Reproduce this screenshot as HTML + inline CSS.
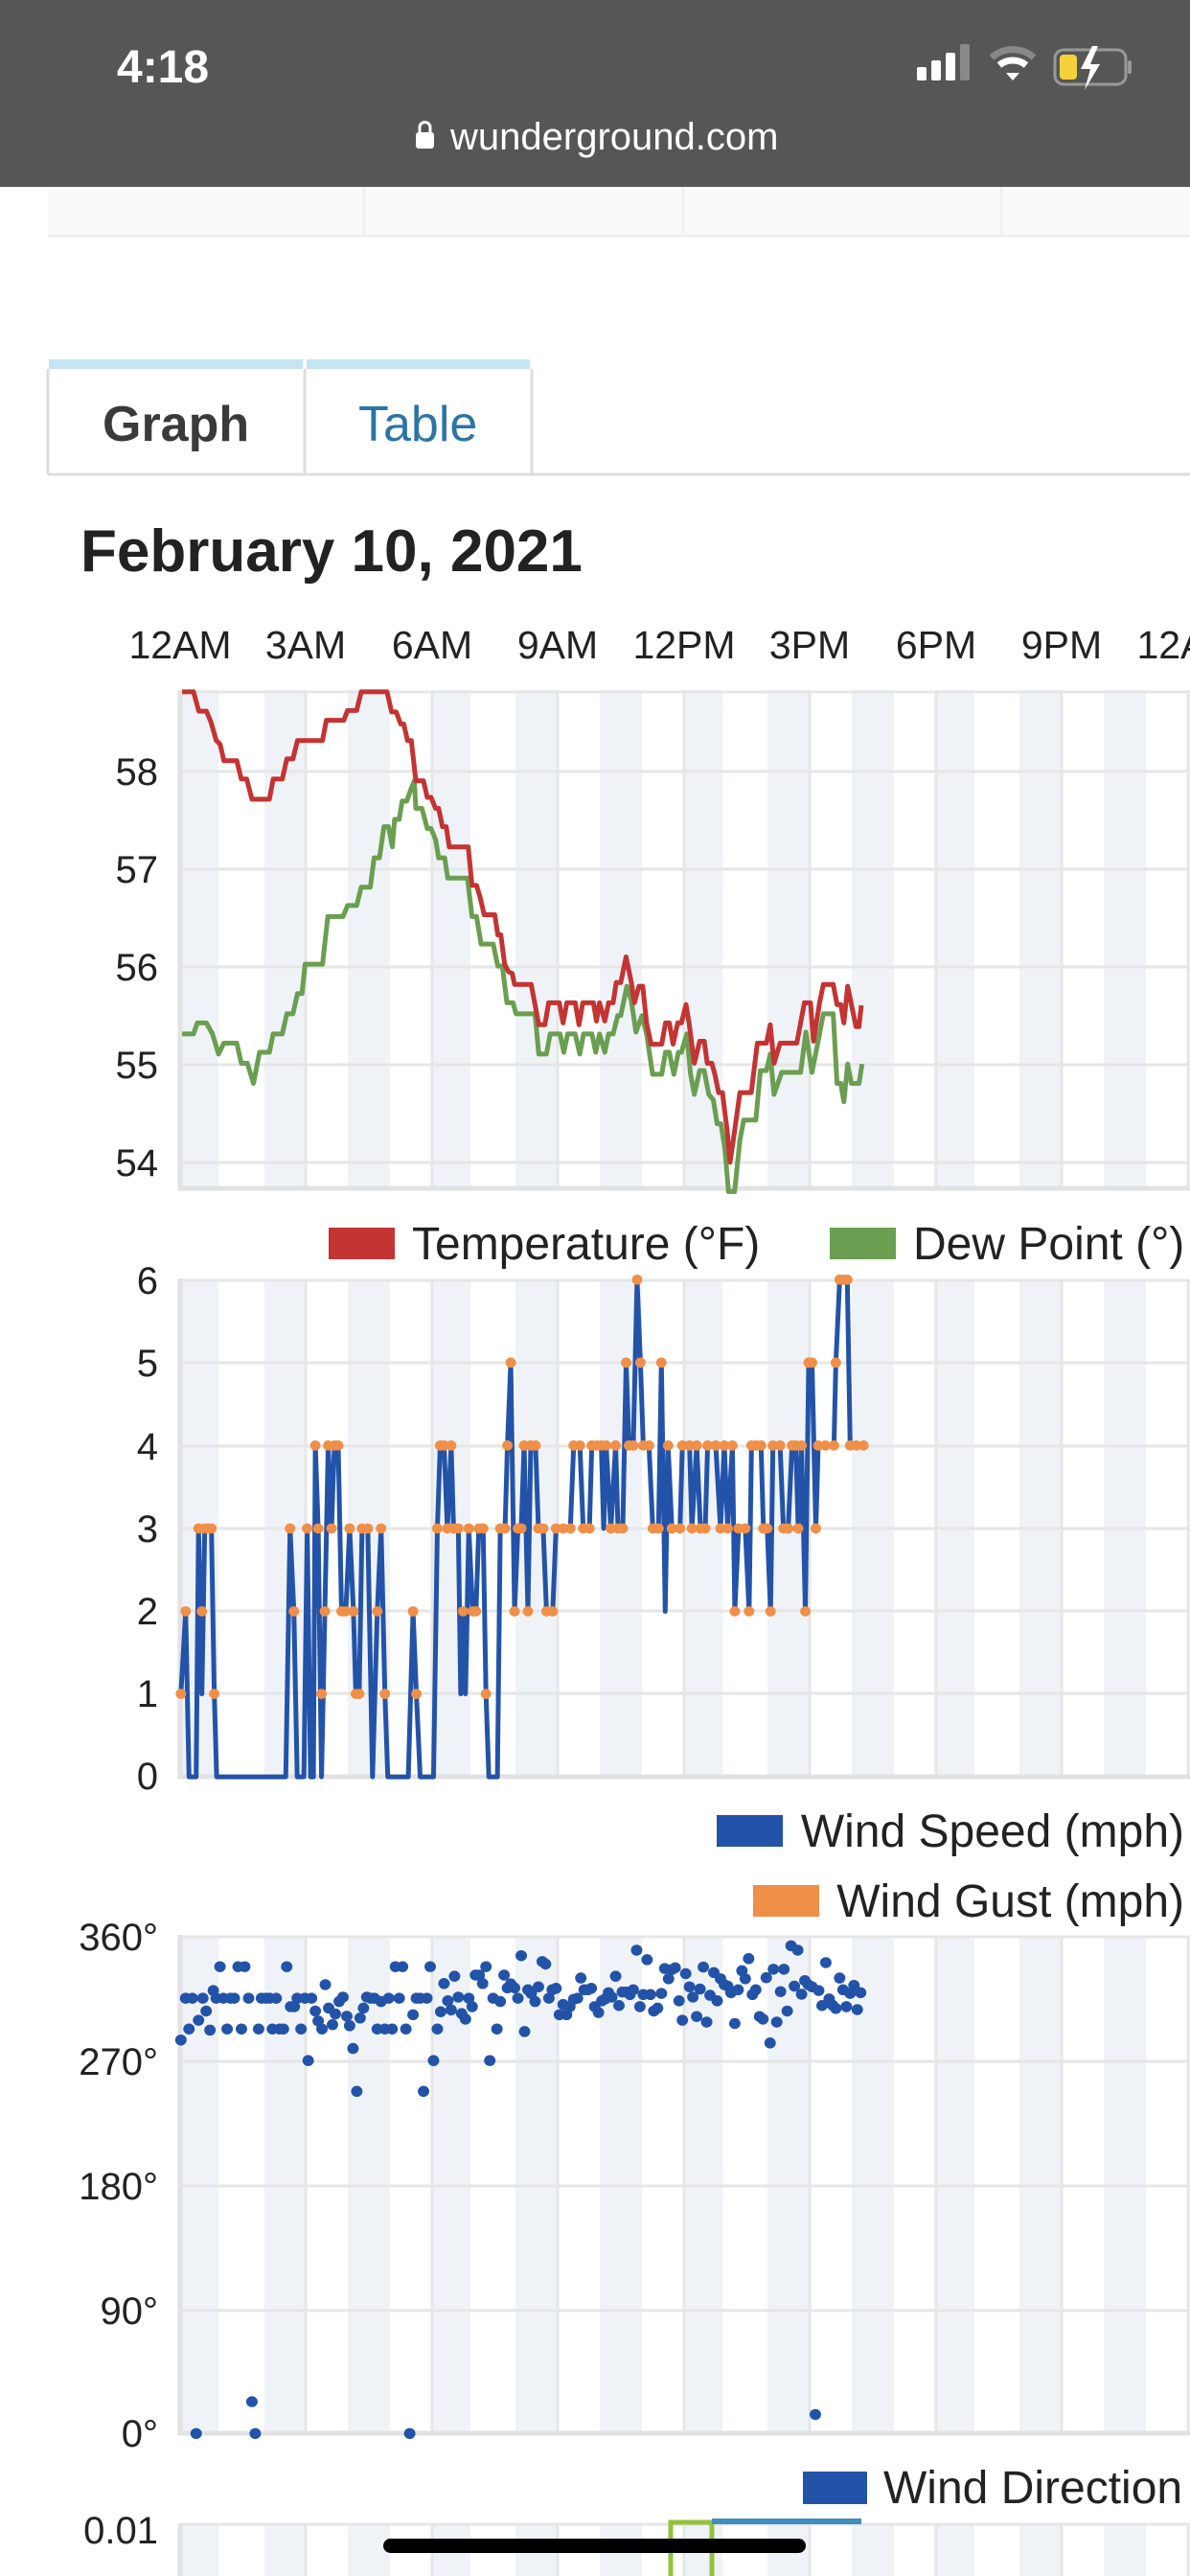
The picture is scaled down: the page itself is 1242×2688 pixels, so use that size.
<!DOCTYPE html>
<html><head><meta charset="utf-8"><style>
html,body{margin:0;padding:0;background:#fff;width:1242px;height:2688px;overflow:hidden}
svg{display:block;font-family:"Liberation Sans",sans-serif}
</style></head><body>
<svg width="1242" height="2688" viewBox="0 0 1242 2688" xmlns="http://www.w3.org/2000/svg">
<!-- faded table remnant -->
<rect x="50" y="195" width="1192" height="50" fill="#fafafa"/>
<line x1="50" y1="246" x2="1242" y2="246" stroke="#eeeeee" stroke-width="3"/>
<g stroke="#f0f0f0" stroke-width="3"><line x1="380" y1="195" x2="380" y2="245"/><line x1="713" y1="195" x2="713" y2="245"/><line x1="1045" y1="195" x2="1045" y2="245"/></g>
<!-- status bar -->
<rect x="0" y="0" width="1242" height="195" fill="#555655"/>
<text x="122" y="86" font-size="48" font-weight="bold" fill="#fff">4:18</text>
<g fill="#fff"><rect x="957" y="70" width="10" height="14" rx="2"/><rect x="972" y="63" width="10" height="21" rx="2"/><rect x="987" y="55" width="10" height="29" rx="2"/></g>
<rect x="1002" y="46" width="10" height="38" rx="2" fill="#888"/>
<path d="M1035 60 a33 33 0 0 1 44 0" stroke="#888" stroke-width="7" fill="none"/>
<path d="M1043 68 a22 22 0 0 1 28 0" stroke="#fff" stroke-width="7" fill="none"/>
<path d="M1050 76 l7 8 l7 -8 z" fill="#fff"/>
<rect x="1101" y="52" width="74" height="36" rx="9" fill="none" stroke="#999" stroke-width="3"/>
<rect x="1106" y="57" width="18" height="26" rx="4" fill="#f5d13c"/>
<rect x="1177" y="63" width="4" height="14" rx="2" fill="#999"/>
<path d="M1140 48 l-12 24 h10 l-6 22 l16 -27 h-10 l8 -19 z" fill="#fff"/>
<rect x="434" y="138" width="19" height="17" rx="3" fill="#fff"/>
<path d="M438 139 v-6 a5.5 5.5 0 0 1 11 0 v6" stroke="#fff" stroke-width="3" fill="none"/>
<text x="470" y="156" font-size="40" fill="#fff">wunderground.com</text>
<!-- tabs -->
<rect x="51" y="375" width="265" height="10" fill="#c5e5f2"/>
<rect x="320" y="375" width="233" height="10" fill="#c5e5f2"/>
<g stroke="#dddddd" stroke-width="3" fill="none">
<line x1="50" y1="385" x2="50" y2="495"/><line x1="318" y1="385" x2="318" y2="495"/><line x1="555" y1="385" x2="555" y2="495"/>
<line x1="50" y1="495" x2="1242" y2="495"/>
</g>
<text x="107" y="460" font-size="52" font-weight="bold" fill="#3a3a3a">Graph</text>
<text x="374" y="460" font-size="52" fill="#2b74a6">Table</text>
<text x="84" y="596" font-size="62" font-weight="bold" fill="#222">February 10, 2021</text>
<!-- hour labels -->
<g font-size="41" fill="#222" text-anchor="middle">
<text x="188" y="687">12AM</text><text x="319" y="687">3AM</text><text x="451" y="687">6AM</text><text x="582" y="687">9AM</text><text x="714" y="687">12PM</text><text x="845" y="687">3PM</text><text x="977" y="687">6PM</text><text x="1108" y="687">9PM</text><text x="1240" y="687">12AM</text>
</g>

<!-- CHART 1 -->
<g fill="#eff3f8">
<rect x="188" y="720" width="40" height="520"/><rect x="276" y="720" width="44" height="520"/><rect x="363" y="720" width="44" height="520"/><rect x="451" y="720" width="40" height="520"/><rect x="538" y="720" width="44" height="520"/><rect x="626" y="720" width="44" height="520"/><rect x="714" y="720" width="40" height="520"/><rect x="801" y="720" width="44" height="520"/><rect x="889" y="720" width="44" height="520"/><rect x="977" y="720" width="40" height="520"/><rect x="1064" y="720" width="44" height="520"/><rect x="1152" y="720" width="44" height="520"/>
</g>
<g stroke="#e6e6e6" stroke-width="3">
<line x1="188" y1="722" x2="1242" y2="722"/><line x1="188" y1="805" x2="1242" y2="805"/><line x1="188" y1="907" x2="1242" y2="907"/><line x1="188" y1="1009" x2="1242" y2="1009"/><line x1="188" y1="1111" x2="1242" y2="1111"/><line x1="188" y1="1213" x2="1242" y2="1213"/>
<line x1="319" y1="720" x2="319" y2="1240"/><line x1="451" y1="720" x2="451" y2="1240"/><line x1="582" y1="720" x2="582" y2="1240"/><line x1="714" y1="720" x2="714" y2="1240"/><line x1="845" y1="720" x2="845" y2="1240"/><line x1="977" y1="720" x2="977" y2="1240"/><line x1="1108" y1="720" x2="1108" y2="1240"/><line x1="1240" y1="720" x2="1240" y2="1240"/>
</g>
<g stroke="#e2e2e2" stroke-width="5"><line x1="188" y1="720" x2="188" y2="1242"/><line x1="186" y1="1240" x2="1242" y2="1240"/></g>
<g font-size="40" fill="#222" text-anchor="end">
<text x="165" y="819">58</text><text x="165" y="921">57</text><text x="165" y="1023">56</text><text x="165" y="1125">55</text><text x="165" y="1227">54</text>
</g>
<g transform="translate(0,700) scale(0.79202,0.38270)" fill="none" stroke-width="5" stroke-linejoin="round">
<polyline vector-effect="non-scaling-stroke" stroke="#6a9e50" points="240,990 255,990 260,960 272,960 280,990 288,1045 295,1015 312,1015 318,1070 326,1070 334,1125 342,1040 355,1040 360,990 372,990 378,935 386,935 392,880 398,880 402,800 425,800 432,670 452,670 458,640 470,640 476,590 488,590 493,510 500,510 506,425 512,425 517,480 520,405 526,405 530,355 536,355 542,320 546,300 548,375 556,375 563,430 568,430 574,460 578,510 586,510 590,565 616,565 622,670 628,670 634,745 650,745 656,805 662,805 668,905 676,905 680,935 705,935 710,1045 720,1045 725,990 738,990 743,1040 748,990 758,990 764,1045 769,990 780,990 785,1040 790,990 797,1040 802,990 808,990 814,940 818,940 826,860 832,900 838,985 846,940 852,990 860,1100 872,1100 877,1040 882,1040 888,1100 894,1040 898,1040 905,990 910,1100 915,1155 922,1090 928,1090 934,1155 940,1170 945,1235 950,1235 955,1300 960,1420 968,1420 975,1280 980,1225 996,1225 1002,1090 1010,1090 1015,1045 1020,1155 1030,1095 1055,1095 1062,985 1070,1095 1080,990 1085,935 1098,935 1103,1125 1108,1125 1112,1175 1117,1072 1122,1125 1132,1125 1136,1072"/>
<polyline vector-effect="non-scaling-stroke" stroke="#c33432" points="240,57 255,57 262,110 272,110 278,140 285,190 290,200 295,245 312,245 318,295 325,295 332,350 355,350 360,295 372,295 378,240 386,240 392,190 425,190 430,135 453,135 458,108 470,108 476,57 510,57 516,112 522,112 528,145 532,145 537,190 542,190 548,300 558,300 563,345 568,345 574,375 578,375 583,425 588,425 592,480 617,480 622,585 628,585 633,620 638,665 652,665 656,720 660,720 665,800 670,820 675,825 678,855 700,855 705,910 710,965 718,965 723,905 737,905 742,960 747,905 758,905 763,965 768,905 782,905 786,955 790,905 797,955 802,905 808,905 812,850 818,850 825,780 832,850 836,905 842,860 847,860 852,960 858,1018 872,1018 877,960 882,960 887,1018 893,960 898,960 904,910 908,960 915,1070 922,1010 928,1010 932,1070 938,1070 942,1100 947,1150 952,1150 958,1250 962,1340 967,1270 975,1150 990,1150 998,1015 1010,1015 1015,965 1020,1070 1028,1015 1050,1015 1060,905 1068,905 1072,1010 1080,905 1085,855 1098,855 1103,910 1108,910 1112,960 1117,860 1122,910 1128,970 1132,970 1135,912"/>
</g>
<rect x="343" y="1281" width="69" height="33" fill="#c33432"/>
<text x="430" y="1314" font-size="48" fill="#222">Temperature (°F)</text>
<rect x="866" y="1281" width="69" height="33" fill="#6a9e50"/>
<text x="953" y="1314" font-size="48" fill="#222">Dew Point (°)</text>

<!-- CHART 2 -->
<g fill="#eff3f8">
<rect x="188" y="1336" width="40" height="518"/><rect x="276" y="1336" width="44" height="518"/><rect x="363" y="1336" width="44" height="518"/><rect x="451" y="1336" width="40" height="518"/><rect x="538" y="1336" width="44" height="518"/><rect x="626" y="1336" width="44" height="518"/><rect x="714" y="1336" width="40" height="518"/><rect x="801" y="1336" width="44" height="518"/><rect x="889" y="1336" width="44" height="518"/><rect x="977" y="1336" width="40" height="518"/><rect x="1064" y="1336" width="44" height="518"/><rect x="1152" y="1336" width="44" height="518"/>
</g>
<g stroke="#e6e6e6" stroke-width="3">
<line x1="188" y1="1336" x2="1242" y2="1336"/><line x1="188" y1="1422" x2="1242" y2="1422"/><line x1="188" y1="1509" x2="1242" y2="1509"/><line x1="188" y1="1595" x2="1242" y2="1595"/><line x1="188" y1="1681" x2="1242" y2="1681"/><line x1="188" y1="1767" x2="1242" y2="1767"/>
<line x1="319" y1="1336" x2="319" y2="1854"/><line x1="451" y1="1336" x2="451" y2="1854"/><line x1="582" y1="1336" x2="582" y2="1854"/><line x1="714" y1="1336" x2="714" y2="1854"/><line x1="845" y1="1336" x2="845" y2="1854"/><line x1="977" y1="1336" x2="977" y2="1854"/><line x1="1108" y1="1336" x2="1108" y2="1854"/><line x1="1240" y1="1336" x2="1240" y2="1854"/>
</g>
<g stroke="#e2e2e2" stroke-width="5"><line x1="188" y1="1334" x2="188" y2="1856"/><line x1="186" y1="1854" x2="1242" y2="1854"/></g>
<g font-size="40" fill="#222" text-anchor="end">
<text x="165" y="1350">6</text><text x="165" y="1436">5</text><text x="165" y="1523">4</text><text x="165" y="1609">3</text><text x="165" y="1695">2</text><text x="165" y="1781">1</text><text x="165" y="1867">0</text>
</g>
<g transform="translate(150,1250) scale(0.49751,0.40816)">
<polyline vector-effect="non-scaling-stroke" fill="none" stroke="#2353a8" stroke-width="5" stroke-linejoin="round" points="78,1268 88,1057 95,1480 110,1480 115,845 122,1268 128,845 135,845 142,845 148,1268 153,1480 298,1480 307,845 315,1057 322,1480 336,1480 343,845 350,1480 356,1480 360,633 366,845 373,1480 380,1057 387,633 394,845 400,633 408,633 415,1057 424,1057 432,845 440,1057 445,1268 452,1268 458,845 470,845 480,1480 490,1057 498,845 506,1268 512,1480 555,1480 565,1057 572,1268 580,1480 608,1480 616,845 622,633 630,633 637,845 645,633 650,845 660,845 665,1268 670,1057 675,1268 682,845 690,1057 697,1057 703,845 712,845 718,1268 724,1480 742,1480 748,845 758,845 763,633 770,421 778,1057 785,845 792,845 798,633 806,1057 812,633 822,633 828,845 838,845 845,1057 858,1057 865,845 895,845 902,633 915,633 922,845 935,845 940,633 960,633 965,845 970,633 980,845 990,633 995,845 1005,845 1012,421 1018,633 1027,633 1035,209 1042,421 1048,633 1060,633 1068,845 1080,845 1086,421 1094,1057 1100,633 1108,845 1125,845 1130,633 1145,633 1150,845 1160,633 1168,845 1178,845 1183,633 1200,633 1210,845 1218,633 1225,845 1235,633 1240,1057 1248,845 1262,845 1270,1057 1275,633 1295,633 1300,845 1308,845 1315,1057 1320,633 1335,633 1342,845 1352,845 1360,633 1368,633 1373,845 1380,633 1388,1057 1395,421 1402,421 1410,845 1415,633 1448,633 1452,421 1460,209 1476,209 1482,633 1510,633"/>
<g fill="#ef8f48">
<ellipse cx="78" cy="1268" rx="11" ry="13"/><ellipse cx="88" cy="1057" rx="11" ry="13"/><ellipse cx="115" cy="845" rx="11" ry="13"/><ellipse cx="122" cy="1057" rx="11" ry="13"/><ellipse cx="128" cy="845" rx="11" ry="13"/><ellipse cx="135" cy="845" rx="11" ry="13"/><ellipse cx="142" cy="845" rx="11" ry="13"/><ellipse cx="148" cy="1268" rx="11" ry="13"/><ellipse cx="307" cy="845" rx="11" ry="13"/><ellipse cx="315" cy="1057" rx="11" ry="13"/><ellipse cx="343" cy="845" rx="11" ry="13"/><ellipse cx="360" cy="633" rx="11" ry="13"/><ellipse cx="366" cy="845" rx="11" ry="13"/><ellipse cx="373" cy="1268" rx="11" ry="13"/><ellipse cx="380" cy="1057" rx="11" ry="13"/><ellipse cx="387" cy="633" rx="11" ry="13"/><ellipse cx="394" cy="845" rx="11" ry="13"/><ellipse cx="400" cy="633" rx="11" ry="13"/><ellipse cx="408" cy="633" rx="11" ry="13"/><ellipse cx="415" cy="1057" rx="11" ry="13"/><ellipse cx="424" cy="1057" rx="11" ry="13"/><ellipse cx="432" cy="845" rx="11" ry="13"/><ellipse cx="440" cy="1057" rx="11" ry="13"/><ellipse cx="445" cy="1268" rx="11" ry="13"/><ellipse cx="452" cy="1268" rx="11" ry="13"/><ellipse cx="458" cy="845" rx="11" ry="13"/><ellipse cx="470" cy="845" rx="11" ry="13"/><ellipse cx="490" cy="1057" rx="11" ry="13"/><ellipse cx="498" cy="845" rx="11" ry="13"/><ellipse cx="506" cy="1268" rx="11" ry="13"/><ellipse cx="565" cy="1057" rx="11" ry="13"/><ellipse cx="572" cy="1268" rx="11" ry="13"/><ellipse cx="616" cy="845" rx="11" ry="13"/><ellipse cx="622" cy="633" rx="11" ry="13"/><ellipse cx="630" cy="633" rx="11" ry="13"/><ellipse cx="637" cy="845" rx="11" ry="13"/><ellipse cx="645" cy="633" rx="11" ry="13"/><ellipse cx="650" cy="845" rx="11" ry="13"/><ellipse cx="660" cy="845" rx="11" ry="13"/><ellipse cx="670" cy="1057" rx="11" ry="13"/><ellipse cx="682" cy="845" rx="11" ry="13"/><ellipse cx="690" cy="1057" rx="11" ry="13"/><ellipse cx="697" cy="1057" rx="11" ry="13"/><ellipse cx="703" cy="845" rx="11" ry="13"/><ellipse cx="712" cy="845" rx="11" ry="13"/><ellipse cx="718" cy="1268" rx="11" ry="13"/><ellipse cx="748" cy="845" rx="11" ry="13"/><ellipse cx="758" cy="845" rx="11" ry="13"/><ellipse cx="763" cy="633" rx="11" ry="13"/><ellipse cx="770" cy="421" rx="11" ry="13"/><ellipse cx="778" cy="1057" rx="11" ry="13"/><ellipse cx="785" cy="845" rx="11" ry="13"/><ellipse cx="792" cy="845" rx="11" ry="13"/><ellipse cx="798" cy="633" rx="11" ry="13"/><ellipse cx="806" cy="1057" rx="11" ry="13"/><ellipse cx="812" cy="633" rx="11" ry="13"/><ellipse cx="822" cy="633" rx="11" ry="13"/><ellipse cx="828" cy="845" rx="11" ry="13"/><ellipse cx="838" cy="845" rx="11" ry="13"/><ellipse cx="845" cy="1057" rx="11" ry="13"/><ellipse cx="858" cy="1057" rx="11" ry="13"/><ellipse cx="865" cy="845" rx="11" ry="13"/><ellipse cx="880" cy="845" rx="11" ry="13"/><ellipse cx="895" cy="845" rx="11" ry="13"/><ellipse cx="902" cy="633" rx="11" ry="13"/><ellipse cx="915" cy="633" rx="11" ry="13"/><ellipse cx="922" cy="845" rx="11" ry="13"/><ellipse cx="935" cy="845" rx="11" ry="13"/><ellipse cx="940" cy="633" rx="11" ry="13"/><ellipse cx="950" cy="633" rx="11" ry="13"/><ellipse cx="960" cy="633" rx="11" ry="13"/><ellipse cx="970" cy="633" rx="11" ry="13"/><ellipse cx="980" cy="845" rx="11" ry="13"/><ellipse cx="990" cy="633" rx="11" ry="13"/><ellipse cx="995" cy="845" rx="11" ry="13"/><ellipse cx="1005" cy="845" rx="11" ry="13"/><ellipse cx="1012" cy="421" rx="11" ry="13"/><ellipse cx="1018" cy="633" rx="11" ry="13"/><ellipse cx="1027" cy="633" rx="11" ry="13"/><ellipse cx="1035" cy="209" rx="11" ry="13"/><ellipse cx="1042" cy="421" rx="11" ry="13"/><ellipse cx="1048" cy="633" rx="11" ry="13"/><ellipse cx="1060" cy="633" rx="11" ry="13"/><ellipse cx="1068" cy="845" rx="11" ry="13"/><ellipse cx="1080" cy="845" rx="11" ry="13"/><ellipse cx="1086" cy="421" rx="11" ry="13"/><ellipse cx="1100" cy="633" rx="11" ry="13"/><ellipse cx="1108" cy="845" rx="11" ry="13"/><ellipse cx="1125" cy="845" rx="11" ry="13"/><ellipse cx="1130" cy="633" rx="11" ry="13"/><ellipse cx="1145" cy="633" rx="11" ry="13"/><ellipse cx="1150" cy="845" rx="11" ry="13"/><ellipse cx="1160" cy="633" rx="11" ry="13"/><ellipse cx="1168" cy="845" rx="11" ry="13"/><ellipse cx="1178" cy="845" rx="11" ry="13"/><ellipse cx="1183" cy="633" rx="11" ry="13"/><ellipse cx="1200" cy="633" rx="11" ry="13"/><ellipse cx="1210" cy="845" rx="11" ry="13"/><ellipse cx="1218" cy="633" rx="11" ry="13"/><ellipse cx="1225" cy="845" rx="11" ry="13"/><ellipse cx="1235" cy="633" rx="11" ry="13"/><ellipse cx="1240" cy="1057" rx="11" ry="13"/><ellipse cx="1248" cy="845" rx="11" ry="13"/><ellipse cx="1262" cy="845" rx="11" ry="13"/><ellipse cx="1270" cy="1057" rx="11" ry="13"/><ellipse cx="1275" cy="633" rx="11" ry="13"/><ellipse cx="1285" cy="633" rx="11" ry="13"/><ellipse cx="1295" cy="633" rx="11" ry="13"/><ellipse cx="1300" cy="845" rx="11" ry="13"/><ellipse cx="1308" cy="845" rx="11" ry="13"/><ellipse cx="1315" cy="1057" rx="11" ry="13"/><ellipse cx="1320" cy="633" rx="11" ry="13"/><ellipse cx="1335" cy="633" rx="11" ry="13"/><ellipse cx="1342" cy="845" rx="11" ry="13"/><ellipse cx="1352" cy="845" rx="11" ry="13"/><ellipse cx="1360" cy="633" rx="11" ry="13"/><ellipse cx="1368" cy="633" rx="11" ry="13"/><ellipse cx="1373" cy="845" rx="11" ry="13"/><ellipse cx="1380" cy="633" rx="11" ry="13"/><ellipse cx="1388" cy="1057" rx="11" ry="13"/><ellipse cx="1395" cy="421" rx="11" ry="13"/><ellipse cx="1402" cy="421" rx="11" ry="13"/><ellipse cx="1410" cy="845" rx="11" ry="13"/><ellipse cx="1415" cy="633" rx="11" ry="13"/><ellipse cx="1430" cy="633" rx="11" ry="13"/><ellipse cx="1448" cy="633" rx="11" ry="13"/><ellipse cx="1452" cy="421" rx="11" ry="13"/><ellipse cx="1460" cy="209" rx="11" ry="13"/><ellipse cx="1468" cy="209" rx="11" ry="13"/><ellipse cx="1476" cy="209" rx="11" ry="13"/><ellipse cx="1482" cy="633" rx="11" ry="13"/><ellipse cx="1495" cy="633" rx="11" ry="13"/><ellipse cx="1510" cy="633" rx="11" ry="13"/>
</g>
</g>
<rect x="748" y="1894" width="69" height="33" fill="#2353a8"/>
<text x="1236" y="1927" font-size="48" fill="#222" text-anchor="end">Wind Speed (mph)</text>
<rect x="786" y="1967" width="69" height="33" fill="#ef8f48"/>
<text x="1236" y="2000" font-size="48" fill="#222" text-anchor="end">Wind Gust (mph)</text>

<!-- CHART 3 -->
<g fill="#eff3f8">
<rect x="188" y="2021" width="40" height="518"/><rect x="276" y="2021" width="44" height="518"/><rect x="363" y="2021" width="44" height="518"/><rect x="451" y="2021" width="40" height="518"/><rect x="538" y="2021" width="44" height="518"/><rect x="626" y="2021" width="44" height="518"/><rect x="714" y="2021" width="40" height="518"/><rect x="801" y="2021" width="44" height="518"/><rect x="889" y="2021" width="44" height="518"/><rect x="977" y="2021" width="40" height="518"/><rect x="1064" y="2021" width="44" height="518"/><rect x="1152" y="2021" width="44" height="518"/>
</g>
<g stroke="#e6e6e6" stroke-width="3">
<line x1="188" y1="2021" x2="1242" y2="2021"/><line x1="188" y1="2151" x2="1242" y2="2151"/><line x1="188" y1="2281" x2="1242" y2="2281"/><line x1="188" y1="2411" x2="1242" y2="2411"/>
<line x1="319" y1="2021" x2="319" y2="2539"/><line x1="451" y1="2021" x2="451" y2="2539"/><line x1="582" y1="2021" x2="582" y2="2539"/><line x1="714" y1="2021" x2="714" y2="2539"/><line x1="845" y1="2021" x2="845" y2="2539"/><line x1="977" y1="2021" x2="977" y2="2539"/><line x1="1108" y1="2021" x2="1108" y2="2539"/><line x1="1240" y1="2021" x2="1240" y2="2539"/>
</g>
<g stroke="#e2e2e2" stroke-width="5"><line x1="188" y1="2019" x2="188" y2="2541"/><line x1="186" y1="2539" x2="1242" y2="2539"/></g>
<g font-size="40" fill="#222" text-anchor="end">
<text x="165" y="2035">360°</text><text x="165" y="2165">270°</text><text x="165" y="2295">180°</text><text x="165" y="2425">90°</text><text x="165" y="2553">0°</text>
</g>
<g transform="translate(150,1950) scale(0.49751,0.38270)" fill="#2353a8">
<ellipse cx="78" cy="467" rx="12" ry="15"/><ellipse cx="88" cy="353" rx="12" ry="15"/><ellipse cx="95" cy="437" rx="12" ry="15"/><ellipse cx="102" cy="353" rx="12" ry="15"/><ellipse cx="115" cy="413" rx="12" ry="15"/><ellipse cx="124" cy="353" rx="12" ry="15"/><ellipse cx="131" cy="388" rx="12" ry="15"/><ellipse cx="139" cy="440" rx="12" ry="15"/><ellipse cx="146" cy="332" rx="12" ry="15"/><ellipse cx="152" cy="353" rx="12" ry="15"/><ellipse cx="160" cy="267" rx="12" ry="15"/><ellipse cx="167" cy="353" rx="12" ry="15"/><ellipse cx="175" cy="437" rx="12" ry="15"/><ellipse cx="182" cy="353" rx="12" ry="15"/><ellipse cx="190" cy="353" rx="12" ry="15"/><ellipse cx="198" cy="267" rx="12" ry="15"/><ellipse cx="205" cy="437" rx="12" ry="15"/><ellipse cx="212" cy="267" rx="12" ry="15"/><ellipse cx="220" cy="353" rx="12" ry="15"/><ellipse cx="241" cy="437" rx="12" ry="15"/><ellipse cx="247" cy="353" rx="12" ry="15"/><ellipse cx="256" cy="353" rx="12" ry="15"/><ellipse cx="264" cy="353" rx="12" ry="15"/><ellipse cx="270" cy="437" rx="12" ry="15"/><ellipse cx="278" cy="353" rx="12" ry="15"/><ellipse cx="285" cy="437" rx="12" ry="15"/><ellipse cx="293" cy="437" rx="12" ry="15"/><ellipse cx="300" cy="267" rx="12" ry="15"/><ellipse cx="308" cy="376" rx="12" ry="15"/><ellipse cx="316" cy="376" rx="12" ry="15"/><ellipse cx="322" cy="353" rx="12" ry="15"/><ellipse cx="330" cy="437" rx="12" ry="15"/><ellipse cx="338" cy="353" rx="12" ry="15"/><ellipse cx="345" cy="523" rx="12" ry="15"/><ellipse cx="352" cy="353" rx="12" ry="15"/><ellipse cx="360" cy="388" rx="12" ry="15"/><ellipse cx="366" cy="415" rx="12" ry="15"/><ellipse cx="374" cy="437" rx="12" ry="15"/><ellipse cx="381" cy="316" rx="12" ry="15"/><ellipse cx="388" cy="380" rx="12" ry="15"/><ellipse cx="396" cy="425" rx="12" ry="15"/><ellipse cx="402" cy="396" rx="12" ry="15"/><ellipse cx="410" cy="362" rx="12" ry="15"/><ellipse cx="418" cy="350" rx="12" ry="15"/><ellipse cx="426" cy="402" rx="12" ry="15"/><ellipse cx="432" cy="428" rx="12" ry="15"/><ellipse cx="439" cy="490" rx="12" ry="15"/><ellipse cx="447" cy="607" rx="12" ry="15"/><ellipse cx="454" cy="407" rx="12" ry="15"/><ellipse cx="461" cy="380" rx="12" ry="15"/><ellipse cx="468" cy="350" rx="12" ry="15"/><ellipse cx="476" cy="353" rx="12" ry="15"/><ellipse cx="484" cy="353" rx="12" ry="15"/><ellipse cx="490" cy="437" rx="12" ry="15"/><ellipse cx="498" cy="362" rx="12" ry="15"/><ellipse cx="506" cy="437" rx="12" ry="15"/><ellipse cx="514" cy="353" rx="12" ry="15"/><ellipse cx="521" cy="437" rx="12" ry="15"/><ellipse cx="528" cy="267" rx="12" ry="15"/><ellipse cx="536" cy="353" rx="12" ry="15"/><ellipse cx="543" cy="267" rx="12" ry="15"/><ellipse cx="550" cy="437" rx="12" ry="15"/><ellipse cx="565" cy="398" rx="12" ry="15"/><ellipse cx="572" cy="353" rx="12" ry="15"/><ellipse cx="580" cy="353" rx="12" ry="15"/><ellipse cx="587" cy="607" rx="12" ry="15"/><ellipse cx="594" cy="353" rx="12" ry="15"/><ellipse cx="601" cy="267" rx="12" ry="15"/><ellipse cx="608" cy="523" rx="12" ry="15"/><ellipse cx="616" cy="437" rx="12" ry="15"/><ellipse cx="623" cy="390" rx="12" ry="15"/><ellipse cx="630" cy="313" rx="12" ry="15"/><ellipse cx="638" cy="360" rx="12" ry="15"/><ellipse cx="645" cy="385" rx="12" ry="15"/><ellipse cx="652" cy="293" rx="12" ry="15"/><ellipse cx="660" cy="350" rx="12" ry="15"/><ellipse cx="667" cy="395" rx="12" ry="15"/><ellipse cx="675" cy="410" rx="12" ry="15"/><ellipse cx="682" cy="353" rx="12" ry="15"/><ellipse cx="689" cy="376" rx="12" ry="15"/><ellipse cx="696" cy="290" rx="12" ry="15"/><ellipse cx="704" cy="290" rx="12" ry="15"/><ellipse cx="711" cy="313" rx="12" ry="15"/><ellipse cx="718" cy="267" rx="12" ry="15"/><ellipse cx="726" cy="523" rx="12" ry="15"/><ellipse cx="733" cy="353" rx="12" ry="15"/><ellipse cx="741" cy="437" rx="12" ry="15"/><ellipse cx="748" cy="362" rx="12" ry="15"/><ellipse cx="756" cy="290" rx="12" ry="15"/><ellipse cx="763" cy="325" rx="12" ry="15"/><ellipse cx="770" cy="314" rx="12" ry="15"/><ellipse cx="778" cy="325" rx="12" ry="15"/><ellipse cx="785" cy="353" rx="12" ry="15"/><ellipse cx="792" cy="237" rx="12" ry="15"/><ellipse cx="799" cy="444" rx="12" ry="15"/><ellipse cx="806" cy="330" rx="12" ry="15"/><ellipse cx="813" cy="340" rx="12" ry="15"/><ellipse cx="821" cy="362" rx="12" ry="15"/><ellipse cx="828" cy="322" rx="12" ry="15"/><ellipse cx="836" cy="253" rx="12" ry="15"/><ellipse cx="843" cy="260" rx="12" ry="15"/><ellipse cx="850" cy="353" rx="12" ry="15"/><ellipse cx="857" cy="330" rx="12" ry="15"/><ellipse cx="865" cy="326" rx="12" ry="15"/><ellipse cx="872" cy="398" rx="12" ry="15"/><ellipse cx="880" cy="370" rx="12" ry="15"/><ellipse cx="887" cy="398" rx="12" ry="15"/><ellipse cx="894" cy="376" rx="12" ry="15"/><ellipse cx="902" cy="356" rx="12" ry="15"/><ellipse cx="910" cy="353" rx="12" ry="15"/><ellipse cx="917" cy="298" rx="12" ry="15"/><ellipse cx="924" cy="330" rx="12" ry="15"/><ellipse cx="932" cy="330" rx="12" ry="15"/><ellipse cx="939" cy="326" rx="12" ry="15"/><ellipse cx="946" cy="376" rx="12" ry="15"/><ellipse cx="954" cy="392" rx="12" ry="15"/><ellipse cx="961" cy="360" rx="12" ry="15"/><ellipse cx="968" cy="355" rx="12" ry="15"/><ellipse cx="975" cy="338" rx="12" ry="15"/><ellipse cx="982" cy="350" rx="12" ry="15"/><ellipse cx="990" cy="293" rx="12" ry="15"/><ellipse cx="997" cy="373" rx="12" ry="15"/><ellipse cx="1004" cy="336" rx="12" ry="15"/><ellipse cx="1012" cy="336" rx="12" ry="15"/><ellipse cx="1020" cy="343" rx="12" ry="15"/><ellipse cx="1027" cy="330" rx="12" ry="15"/><ellipse cx="1034" cy="222" rx="12" ry="15"/><ellipse cx="1041" cy="376" rx="12" ry="15"/><ellipse cx="1048" cy="343" rx="12" ry="15"/><ellipse cx="1056" cy="248" rx="12" ry="15"/><ellipse cx="1063" cy="343" rx="12" ry="15"/><ellipse cx="1070" cy="388" rx="12" ry="15"/><ellipse cx="1078" cy="380" rx="12" ry="15"/><ellipse cx="1086" cy="340" rx="12" ry="15"/><ellipse cx="1093" cy="272" rx="12" ry="15"/><ellipse cx="1101" cy="300" rx="12" ry="15"/><ellipse cx="1108" cy="275" rx="12" ry="15"/><ellipse cx="1115" cy="270" rx="12" ry="15"/><ellipse cx="1123" cy="360" rx="12" ry="15"/><ellipse cx="1130" cy="413" rx="12" ry="15"/><ellipse cx="1137" cy="286" rx="12" ry="15"/><ellipse cx="1145" cy="322" rx="12" ry="15"/><ellipse cx="1152" cy="350" rx="12" ry="15"/><ellipse cx="1160" cy="403" rx="12" ry="15"/><ellipse cx="1167" cy="328" rx="12" ry="15"/><ellipse cx="1174" cy="268" rx="12" ry="15"/><ellipse cx="1181" cy="418" rx="12" ry="15"/><ellipse cx="1188" cy="345" rx="12" ry="15"/><ellipse cx="1196" cy="283" rx="12" ry="15"/><ellipse cx="1203" cy="360" rx="12" ry="15"/><ellipse cx="1210" cy="300" rx="12" ry="15"/><ellipse cx="1218" cy="316" rx="12" ry="15"/><ellipse cx="1225" cy="320" rx="12" ry="15"/><ellipse cx="1232" cy="338" rx="12" ry="15"/><ellipse cx="1240" cy="422" rx="12" ry="15"/><ellipse cx="1247" cy="330" rx="12" ry="15"/><ellipse cx="1255" cy="278" rx="12" ry="15"/><ellipse cx="1262" cy="300" rx="12" ry="15"/><ellipse cx="1269" cy="245" rx="12" ry="15"/><ellipse cx="1277" cy="343" rx="12" ry="15"/><ellipse cx="1284" cy="330" rx="12" ry="15"/><ellipse cx="1292" cy="403" rx="12" ry="15"/><ellipse cx="1299" cy="410" rx="12" ry="15"/><ellipse cx="1306" cy="297" rx="12" ry="15"/><ellipse cx="1314" cy="475" rx="12" ry="15"/><ellipse cx="1321" cy="274" rx="12" ry="15"/><ellipse cx="1328" cy="418" rx="12" ry="15"/><ellipse cx="1336" cy="335" rx="12" ry="15"/><ellipse cx="1343" cy="274" rx="12" ry="15"/><ellipse cx="1350" cy="388" rx="12" ry="15"/><ellipse cx="1358" cy="210" rx="12" ry="15"/><ellipse cx="1365" cy="320" rx="12" ry="15"/><ellipse cx="1372" cy="222" rx="12" ry="15"/><ellipse cx="1380" cy="342" rx="12" ry="15"/><ellipse cx="1387" cy="305" rx="12" ry="15"/><ellipse cx="1394" cy="316" rx="12" ry="15"/><ellipse cx="1402" cy="322" rx="12" ry="15"/><ellipse cx="1416" cy="332" rx="12" ry="15"/><ellipse cx="1423" cy="373" rx="12" ry="15"/><ellipse cx="1431" cy="256" rx="12" ry="15"/><ellipse cx="1438" cy="355" rx="12" ry="15"/><ellipse cx="1445" cy="372" rx="12" ry="15"/><ellipse cx="1452" cy="381" rx="12" ry="15"/><ellipse cx="1460" cy="298" rx="12" ry="15"/><ellipse cx="1467" cy="330" rx="12" ry="15"/><ellipse cx="1474" cy="376" rx="12" ry="15"/><ellipse cx="1482" cy="340" rx="12" ry="15"/><ellipse cx="1490" cy="318" rx="12" ry="15"/><ellipse cx="1497" cy="384" rx="12" ry="15"/><ellipse cx="1504" cy="338" rx="12" ry="15"/>
<ellipse cx="110" cy="1540" rx="12" ry="15"/><ellipse cx="227" cy="1453" rx="12" ry="15"/><ellipse cx="234" cy="1540" rx="12" ry="15"/><ellipse cx="558" cy="1540" rx="12" ry="15"/><ellipse cx="1409" cy="1488" rx="12" ry="15"/>
</g>
<rect x="838" y="2579" width="67" height="34" fill="#2353a8"/>
<text x="922" y="2612" font-size="48" fill="#222">Wind Direction</text>

<!-- CHART 4 -->
<g fill="#eff3f8">
<rect x="188" y="2633" width="40" height="55"/><rect x="276" y="2633" width="44" height="55"/><rect x="363" y="2633" width="44" height="55"/><rect x="451" y="2633" width="40" height="55"/><rect x="538" y="2633" width="44" height="55"/><rect x="626" y="2633" width="44" height="55"/><rect x="714" y="2633" width="40" height="55"/><rect x="801" y="2633" width="44" height="55"/><rect x="889" y="2633" width="44" height="55"/><rect x="977" y="2633" width="40" height="55"/><rect x="1064" y="2633" width="44" height="55"/><rect x="1152" y="2633" width="44" height="55"/>
</g>
<g stroke="#e6e6e6" stroke-width="3">
<line x1="188" y1="2634" x2="1242" y2="2634"/>
<line x1="319" y1="2633" x2="319" y2="2688"/><line x1="451" y1="2633" x2="451" y2="2688"/><line x1="582" y1="2633" x2="582" y2="2688"/><line x1="714" y1="2633" x2="714" y2="2688"/><line x1="845" y1="2633" x2="845" y2="2688"/><line x1="977" y1="2633" x2="977" y2="2688"/><line x1="1108" y1="2633" x2="1108" y2="2688"/><line x1="1240" y1="2633" x2="1240" y2="2688"/>
</g>
<line x1="188" y1="2633" x2="188" y2="2688" stroke="#e2e2e2" stroke-width="5"/>
<text x="165" y="2654" font-size="40" fill="#222" text-anchor="end">0.01</text>
<path d="M700 2688 V2632 H743 V2688" fill="none" stroke="#96c13c" stroke-width="5"/>
<line x1="743" y1="2631" x2="899" y2="2631" stroke="#3f8fbf" stroke-width="6"/>
<rect x="400" y="2649" width="441" height="15" rx="7.5" fill="#000"/>
</svg>
</body></html>
